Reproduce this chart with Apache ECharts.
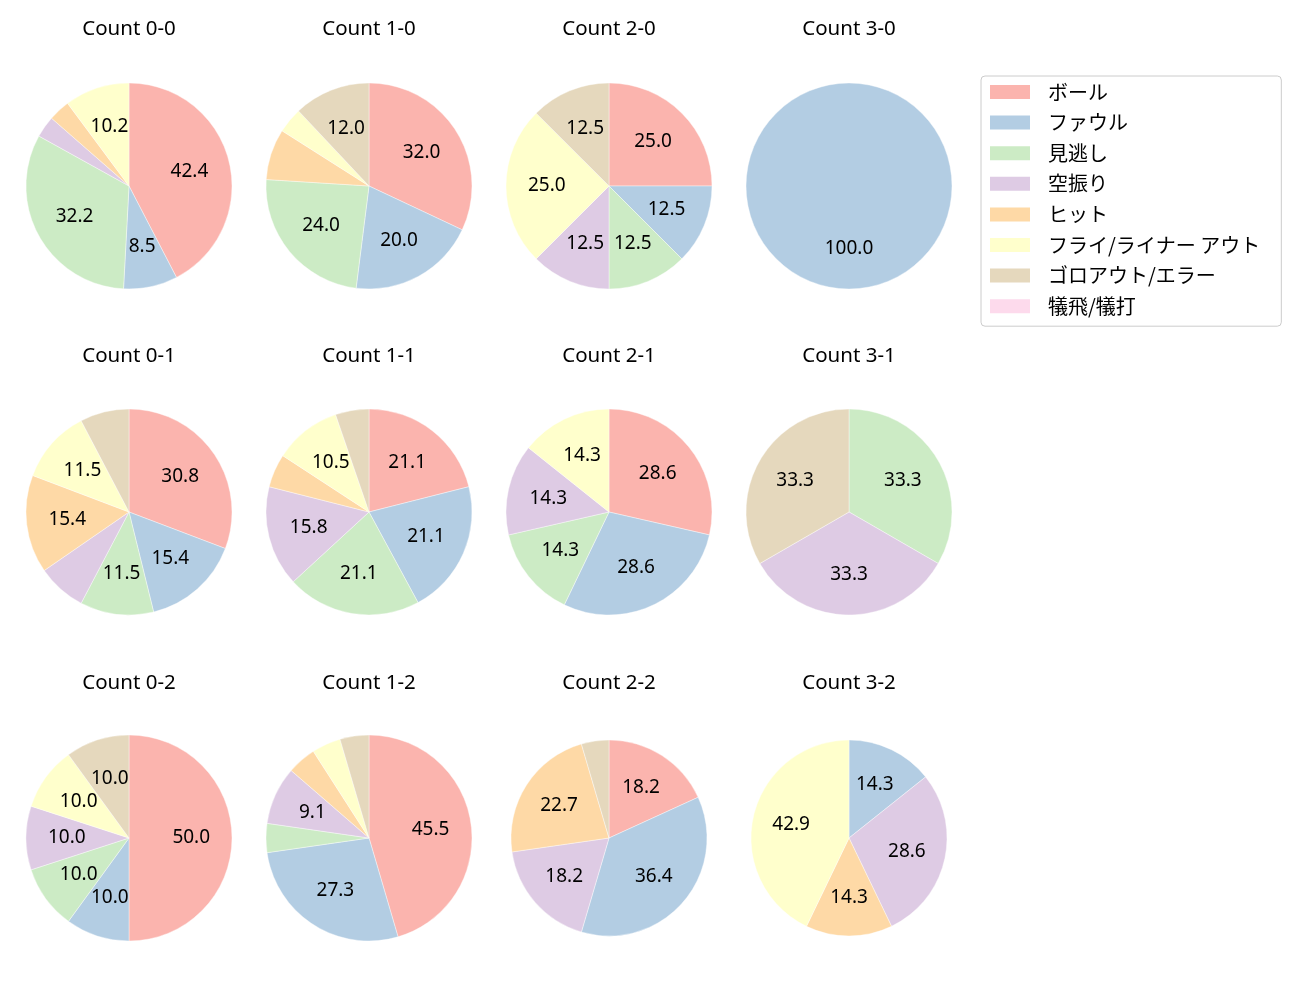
<!DOCTYPE html>
<html>
<head>
<meta charset="utf-8">
<script src="https://cdn.jsdelivr.net/npm/echarts@6/dist/echarts.min.js"></script>
<style>
html,body{margin:0;padding:0;background:#fff;}
#main{width:1300px;height:1000px;}
</style>
</head>
<body>
<div id="main"></div>
<script>
// ---- data ----
const categories = ['ボール','ファウル','見逃し','空振り','ヒット','フライ/ライナー アウト','ゴロアウト/エラー','犠飛/犠打'];
const colors = ['#fbb4ae','#b3cde3','#ccebc5','#decbe4','#fed9a6','#ffffcc','#e5d8bd','#fddaec'];
const countTitles = ['Count 0-0','Count 1-0','Count 2-0','Count 3-0',
                     'Count 0-1','Count 1-1','Count 2-1','Count 3-1',
                     'Count 0-2','Count 1-2','Count 2-2','Count 3-2'];
const c00 = [25,5,19,2,2,6,0,0];
const c10 = [8,5,6,0,2,1,3,0];
const c20 = [2,1,1,1,0,2,1,0];
const c30 = [0,1,0,0,0,0,0,0];
const c01 = [8,4,3,2,4,3,2,0];
const c11 = [4,4,4,3,1,2,1,0];
const c21 = [2,2,1,1,0,1,0,0];
const c31 = [0,0,1,1,0,0,1,0];
const c02 = [5,1,1,1,0,1,1,0];
const c12 = [10,6,1,2,1,1,1,0];
const c22 = [4,8,0,4,5,0,1,0];
const c32 = [0,1,0,2,1,3,0,0];
const countValues = [c00,c10,c20,c30,c01,c11,c21,c31,c02,c12,c22,c32];

// ---- layout ----
const FONT = '"Noto Sans", "Noto Sans CJK JP", sans-serif';
const FONT_JP = '"Noto Sans CJK JP", "Noto Sans", sans-serif';
const colX = [129, 369, 609, 849];
const rowY = [186, 512, 838];
const radii = [103,103,103,103, 103,103,103,103, 103,103,98,98];
const titleY = [28, 355, 682];

const series = [];
// legend provider (holds all categories, off-screen)
series.push({
  type: 'pie', radius: 0, center: [-1000, -1000], silent: true,
  label: {show: false}, labelLine: {show: false},
  data: categories.map((n, i) => ({name: n, value: 1, itemStyle: {color: colors[i]}}))
});

const graphics = [];
countValues.forEach((vals, k) => {
  const cx = colX[k % 4], cy = rowY[Math.floor(k / 4)], r = radii[k];
  const total = vals.reduce((a, b) => a + b, 0);
  const data = [];
  vals.forEach((v, i) => {
    if (v > 0) data.push({name: categories[i], value: v, itemStyle: {color: colors[i]}});
  });
  series.push({
    type: 'pie', center: [cx, cy], radius: r, clockwise: true, startAngle: 90,
    silent: true, animation: false,
    itemStyle: {borderColor: '#ffffff', borderWidth: 0.4},
    label: {show: false}, labelLine: {show: false},
    emphasis: {disabled: true},
    data: data
  });
  series.push({
    type: 'pie', center: [cx, cy], radius: [r * 0.15, r], clockwise: true, startAngle: 90,
    silent: true, animation: false,
    itemStyle: {color: 'rgba(0,0,0,0)'},
    labelLine: {show: false},
    emphasis: {disabled: true},
    label: {
      show: true, position: 'inside', color: '#000', fontSize: 19, fontFamily: FONT,
      formatter: (p) => {
        const pct = p.value / total * 100;
        return pct > 8 ? pct.toFixed(1) : '';
      }
    },
    data: data.map(d => ({name: d.name, value: d.value}))
  });
  graphics.push({
    type: 'text', x: cx, y: titleY[Math.floor(k / 4)] + 1,
    style: {text: countTitles[k], fontSize: 20.5, fontFamily: FONT, fill: '#000',
            textAlign: 'center', textVerticalAlign: 'middle'}
  });
});

const chart = echarts.init(document.getElementById('main'), null, {renderer: 'canvas'});
chart.setOption({
  animation: false,
  backgroundColor: '#ffffff',
  legend: {
    data: categories,
    orient: 'vertical',
    left: 981, top: 76,
    icon: 'rect',
    itemWidth: 40, itemHeight: 14,
    itemGap: 10.6,
    padding: [6, 21, 10, 9],
    borderColor: '#cccccc', borderWidth: 1, borderRadius: 4,
    selectedMode: false,
    textStyle: {fontSize: 20, fontFamily: FONT_JP, color: '#000', lineHeight: 20, padding: [0, 0, 0, 13]}
  },
  graphic: graphics,
  series: series
});
</script>
</body>
</html>
